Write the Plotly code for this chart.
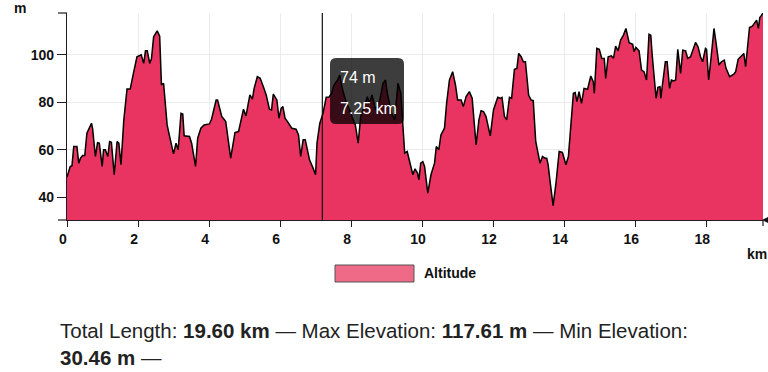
import plotly.graph_objects as go

# ---------------- data ----------------
dist_km = [
    0.00, 0.09, 0.14, 0.19, 0.28, 0.33, 0.38, 0.44, 0.50, 0.56, 0.69, 0.72, 0.80, 0.86, 0.91, 0.99,
    1.03, 1.08, 1.15, 1.20, 1.25, 1.33, 1.41, 1.46, 1.52, 1.60, 1.69, 1.78, 1.88, 1.97, 2.09, 2.16,
    2.21, 2.26, 2.33, 2.38, 2.44, 2.54, 2.61, 2.66, 2.72, 2.82, 2.88, 3.00, 3.07, 3.13, 3.21, 3.26,
    3.30, 3.45, 3.51, 3.62, 3.68, 3.77, 3.86, 4.01, 4.07, 4.20, 4.24, 4.36, 4.40, 4.47, 4.61, 4.73,
    4.83, 4.97, 5.04, 5.15, 5.22, 5.27, 5.36, 5.44, 5.53, 5.61, 5.70, 5.76, 5.81, 5.91, 5.97, 6.03,
    6.08, 6.14, 6.21, 6.33, 6.45, 6.52, 6.58, 6.65, 6.71, 6.83, 6.93, 7.00, 7.04, 7.12, 7.21, 7.30,
    7.37, 7.45, 7.52, 7.62, 7.68, 7.75, 7.87, 7.96, 8.06, 8.12, 8.20, 8.27, 8.37, 8.46, 8.51, 8.59,
    8.69, 8.81, 8.90, 8.97, 9.02, 9.14, 9.23, 9.32, 9.40, 9.46, 9.51, 9.58, 9.65, 9.74, 9.80, 9.87,
    9.91, 9.96, 10.02, 10.07, 10.16, 10.25, 10.35, 10.40, 10.47, 10.53, 10.63, 10.69, 10.77, 10.86,
    10.94, 11.00, 11.10, 11.16, 11.24, 11.33, 11.41, 11.46, 11.52, 11.60, 11.66, 11.73, 11.80, 11.92,
    12.01, 12.13, 12.20, 12.25, 12.32, 12.38, 12.46, 12.52, 12.60, 12.67, 12.72, 12.79, 12.85, 12.91,
    13.00, 13.07, 13.13, 13.20, 13.27, 13.32, 13.39, 13.46, 13.51, 13.55, 13.61, 13.69, 13.77, 13.86,
    13.95, 14.05, 14.12, 14.19, 14.26, 14.31, 14.36, 14.42, 14.49, 14.56, 14.66, 14.75, 14.82, 14.85,
    14.92, 14.99, 15.06, 15.13, 15.17, 15.24, 15.33, 15.39, 15.45, 15.52, 15.59, 15.67, 15.74, 15.83,
    15.93, 15.97, 16.02, 16.11, 16.18, 16.25, 16.32, 16.39, 16.44, 16.48, 16.55, 16.59, 16.64, 16.70,
    16.72, 16.76, 16.85, 16.90, 16.97, 17.02, 17.09, 17.14, 17.20, 17.28, 17.34, 17.42, 17.48, 17.56,
    17.63, 17.70, 17.77, 17.84, 17.90, 17.98, 18.01, 18.07, 18.14, 18.22, 18.28, 18.36, 18.43, 18.51,
    18.56, 18.66, 18.78, 18.83, 18.90, 19.00, 19.06, 19.11, 19.16, 19.22, 19.30, 19.37, 19.42, 19.47,
    19.51, 19.54, 19.58, 19.60,
]
alt_m = [
    48.5, 53.0, 53.3, 61.4, 61.4, 54.4, 56.5, 57.6, 57.6, 67.0, 71.2, 69.0, 57.2, 63.0, 62.8, 53.0,
    60.0, 60.0, 57.2, 63.5, 63.2, 49.5, 63.5, 62.8, 53.7, 72.6, 85.6, 85.6, 92.9, 99.2, 100.0, 96.4,
    101.7, 101.7, 96.4, 98.5, 107.6, 110.1, 107.9, 87.3, 88.0, 70.5, 66.3, 58.3, 62.8, 60.0, 75.4, 75.1,
    65.9, 65.6, 62.8, 53.0, 64.9, 69.1, 70.5, 70.9, 72.9, 81.0, 81.0, 74.0, 73.3, 71.9, 56.5, 67.3,
    67.7, 77.1, 74.3, 83.1, 81.3, 85.9, 90.8, 90.1, 86.6, 83.1, 77.1, 76.8, 83.5, 81.0, 73.3, 77.5,
    78.2, 73.3, 71.9, 69.1, 68.7, 66.3, 57.2, 64.2, 64.2, 55.8, 52.3, 49.5, 62.8, 71.2, 75.4, 82.1,
    82.1, 83.8, 87.3, 89.4, 91.5, 85.9, 79.6, 76.8, 72.6, 70.5, 62.8, 74.0, 78.2, 82.4, 79.6, 83.1,
    76.8, 81.0, 88.0, 89.4, 83.8, 75.4, 72.6, 88.0, 83.8, 71.2, 58.6, 59.3, 55.5, 49.5, 52.0, 50.2,
    47.4, 54.4, 55.0, 53.0, 41.8, 49.5, 54.4, 61.4, 60.0, 66.3, 69.1, 79.6, 89.4, 92.9,
    87.3, 81.0, 81.0, 78.2, 82.4, 84.5, 81.7, 72.6, 62.1, 72.6, 76.5, 76.1, 74.0, 65.9,
    76.8, 82.1, 81.7, 82.1, 74.0, 72.6, 82.1, 81.7, 93.9, 94.3, 100.6, 99.2, 97.1, 97.1,
    83.1, 81.0, 80.7, 63.5, 57.2, 54.4, 57.2, 56.5, 56.5, 53.7, 46.0, 36.5, 46.0, 59.3,
    58.9, 53.7, 57.2, 69.8, 83.8, 84.1, 80.3, 84.5, 79.6, 85.9, 85.5, 91.1, 88.7, 83.8,
    102.7, 102.3, 98.5, 98.5, 90.1, 99.2, 99.6, 98.5, 103.7, 101.7, 106.2, 108.3, 111.1, 105.1,
    104.4, 101.3, 103.1, 101.7, 93.6, 92.9, 89.4, 108.7, 108.3, 99.9, 86.3, 81.7, 86.3, 86.6,
    81.7, 86.9, 97.1, 97.1, 85.9, 89.4, 89.0, 89.4, 102.3, 92.2, 102.0, 101.7, 98.5, 99.2,
    102.3, 105.2, 103.4, 99.2, 97.1, 102.7, 102.3, 89.4, 99.2, 111.1, 104.8, 95.7, 97.1, 97.8,
    94.3, 90.8, 91.9, 92.9, 98.1, 99.5, 100.6, 95.0, 101.3, 111.5, 112.1, 113.9, 114.6, 111.1,
    115.7, 116.3, 117.4, 117.61,
]
x_ticks = [0, 2, 4, 6, 8, 10, 12, 14, 16, 18]
y_ticks = [40, 60, 80, 100]
total_length_km = 19.60
max_elev_m = 117.61
min_elev_m = 30.46
cursor_km = 7.19
tooltip_alt = "74 m"
tooltip_dist = "7.25 km"
series_name = "Altitude"

# ---------------- layout helpers ----------------
W, H = 768, 372
L, R, T, B = 67, 5, 13, 152
PW, PH = W - L - R, H - T - B


def xp(px):
    return (px - L) / PW


def yp(py):
    return (H - B - py) / PH


FILL = "rgb(233,51,96)"
AXIS = "#231a23"
FONT = "Liberation Sans"

fig = go.Figure()
fig.add_trace(go.Scatter(
    x=dist_km, y=alt_m, mode="lines", fill="tozeroy",
    fillcolor=FILL, line=dict(color="#000000", width=1.5),
    showlegend=False, hoverinfo="skip",
))

shapes = []
# cursor line
shapes.append(dict(type="line", xref="x", yref="y domain", x0=cursor_km, x1=cursor_km,
                   y0=0, y1=1, line=dict(color="#111", width=1.2), layer="above"))
# outer ticks
shapes.append(dict(type="line", xref="paper", yref="paper", x0=xp(58), x1=xp(67),
                   y0=yp(13), y1=yp(13), line=dict(color=AXIS, width=1.2)))
shapes.append(dict(type="line", xref="paper", yref="paper", x0=xp(58), x1=xp(67),
                   y0=0, y1=0, line=dict(color=AXIS, width=1.2)))
shapes.append(dict(type="line", xref="paper", yref="paper", x0=1, x1=1,
                   y0=0, y1=yp(226), line=dict(color=AXIS, width=1.2)))
# small arrow at x-axis end
shapes.append(dict(type="path", xref="paper", yref="paper",
                   path=f"M {xp(762)},{yp(220)} L {xp(768)},{yp(217)} L {xp(768)},{yp(223)} Z",
                   fillcolor="#111", line=dict(width=0)))

# tooltip rounded box
x0, x1, y0, y1, r = 330, 404, 58, 124, 6
rx, ry = r / PW, r / PH
X0, X1, Y0, Y1 = xp(x0), xp(x1), yp(y1), yp(y0)
path = (f"M {X0+rx},{Y0} L {X1-rx},{Y0} Q {X1},{Y0} {X1},{Y0+ry} "
        f"L {X1},{Y1-ry} Q {X1},{Y1} {X1-rx},{Y1} L {X0+rx},{Y1} Q {X0},{Y1} {X0},{Y1-ry} "
        f"L {X0},{Y0+ry} Q {X0},{Y0} {X0+rx},{Y0} Z")
shapes.append(dict(type="path", xref="paper", yref="paper", path=path,
                   fillcolor="rgba(0,0,0,0.76)", line=dict(width=0), layer="above"))

# legend swatch
shapes.append(dict(type="rect", xref="paper", yref="paper", x0=xp(335), x1=xp(414),
                   y0=yp(282), y1=yp(265), fillcolor="rgb(239,106,135)",
                   line=dict(color="#555", width=1)))

annotations = [
    dict(text="<b>m</b>", xref="paper", yref="paper", x=xp(12), y=yp(8), xanchor="left",
         yanchor="middle", showarrow=False, font=dict(family=FONT, size=14, color="#111")),
    dict(text="<b>km</b>", xref="paper", yref="paper", x=xp(745), y=yp(254), xanchor="left",
         yanchor="middle", showarrow=False, font=dict(family=FONT, size=14, color="#111")),
    dict(text=tooltip_alt, xref="paper", yref="paper", x=xp(338), y=yp(78), xanchor="left",
         yanchor="middle", showarrow=False, font=dict(family=FONT, size=16, color="#fff")),
    dict(text=tooltip_dist, xref="paper", yref="paper", x=xp(338), y=yp(108), xanchor="left",
         yanchor="middle", showarrow=False, font=dict(family=FONT, size=16, color="#fff")),
    dict(text=f"<b>{series_name}</b>", xref="paper", yref="paper", x=xp(422), y=yp(273),
         xanchor="left", yanchor="middle", showarrow=False,
         font=dict(family=FONT, size=14, color="#111")),
    dict(text=(f"Total Length: <b>{total_length_km:.2f} km</b> — Max Elevation: "
               f"<b>{max_elev_m:.2f} m</b> — Min Elevation:<br><b>{min_elev_m:.2f} m</b> —"),
         xref="paper", yref="paper", x=xp(58), y=yp(317), xanchor="left", yanchor="top",
         align="left", showarrow=False, font=dict(family=FONT, size=20.5, color="#222")),
]

fig.update_layout(
    width=W, height=H, autosize=False,
    margin=dict(l=L, r=R, t=T, b=B),
    paper_bgcolor="white", plot_bgcolor="white",
    shapes=shapes, annotations=annotations,
    xaxis=dict(range=[0, total_length_km], tickvals=x_ticks, ticks="outside", ticklen=6,
               tickcolor=AXIS, showline=True, linecolor=AXIS, linewidth=1.2,
               showgrid=True, gridcolor="#ebebeb", zeroline=False, ticklabelshift=-4,
               tickfont=dict(family=FONT, size=14, color="#111", weight="bold")),
    yaxis=dict(range=[min_elev_m, max_elev_m], tickvals=y_ticks, ticks="outside", ticklen=9,
               tickcolor=AXIS, showline=True, linecolor=AXIS, linewidth=1.2,
               showgrid=True, gridcolor="#ebebeb", zeroline=False,
               tickfont=dict(family=FONT, size=14, color="#111", weight="bold")),
    hovermode=False,
)

fig.write_html("out.html", config={"displayModeBar": False},
               post_script="document.body.style.margin='0';")
